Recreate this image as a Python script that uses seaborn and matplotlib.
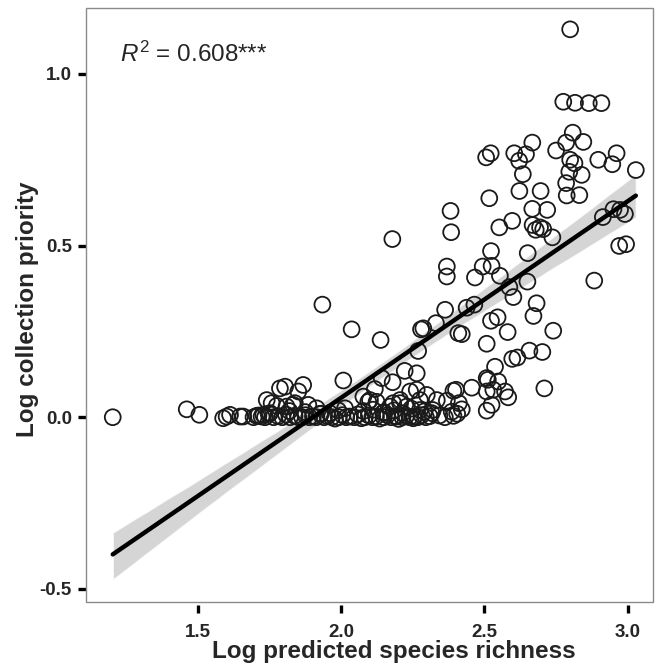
import numpy as np
import pandas as pd
import matplotlib
matplotlib.use("Agg")
import matplotlib.pyplot as plt
import seaborn as sns
from matplotlib.patches import Rectangle

# Data (log predicted richness vs log collection priority)
# upper cloud
x_high = [2.799, 2.775, 2.816, 2.864, 2.908, 2.808, 2.785, 2.845, 2.667, 2.750,
          2.506, 2.522, 2.604, 2.645, 2.621, 2.799, 2.814, 2.897, 2.961, 2.946,
          3.028, 2.796, 2.839, 2.634, 2.785, 2.622, 2.696, 2.787, 2.831, 2.517,
          2.382, 2.667, 2.719, 2.913, 2.950, 2.973, 2.990, 2.552, 2.597, 2.384,
          2.668, 2.679, 2.694, 2.705, 2.737, 2.179, 2.523, 2.651, 2.970, 2.994,
          2.369, 2.369, 2.494, 2.525, 2.467, 2.554, 2.650, 2.883, 2.587, 2.601,
          2.682, 2.363, 2.438, 2.465]
y_high = [1.130, 0.919, 0.916, 0.915, 0.915, 0.829, 0.800, 0.802, 0.800, 0.777,
          0.757, 0.769, 0.769, 0.766, 0.747, 0.750, 0.740, 0.750, 0.769, 0.737,
          0.720, 0.715, 0.706, 0.708, 0.682, 0.659, 0.659, 0.646, 0.647, 0.638,
          0.601, 0.607, 0.604, 0.583, 0.606, 0.604, 0.592, 0.553, 0.572, 0.539,
          0.560, 0.546, 0.553, 0.548, 0.524, 0.519, 0.484, 0.478, 0.499, 0.504,
          0.439, 0.410, 0.439, 0.441, 0.407, 0.412, 0.395, 0.398, 0.379, 0.350,
          0.332, 0.313, 0.319, 0.328]

# middle cloud
x_mid = [2.671, 2.740, 2.331, 2.279, 2.287, 2.409, 2.421, 2.523, 2.546, 2.581,
         2.508, 2.657, 2.702, 2.597, 2.615, 2.138, 2.269, 2.537, 2.222, 2.264,
         2.142, 2.180, 2.118, 2.508, 2.512, 2.548, 2.456, 2.709, 2.508, 2.531,
         2.572, 2.583, 2.392, 2.401, 2.369, 2.411, 2.421, 2.386, 2.392, 2.525,
         2.508, 2.316, 2.320, 2.241, 2.264, 2.299, 2.334, 2.275, 2.206, 2.182,
         2.101, 1.935, 2.037, 2.008]
y_mid = [0.295, 0.252, 0.274, 0.256, 0.259, 0.245, 0.242, 0.281, 0.291, 0.248,
         0.214, 0.194, 0.190, 0.170, 0.174, 0.225, 0.193, 0.147, 0.135, 0.128,
         0.114, 0.102, 0.082, 0.114, 0.109, 0.104, 0.086, 0.084, 0.075, 0.080,
         0.075, 0.058, 0.077, 0.080, 0.048, 0.041, 0.023, 0.016, 0.004, 0.036,
         0.019, 0.012, 0.021, 0.075, 0.080, 0.065, 0.050, 0.050, 0.050, 0.041,
         0.050, 0.328, 0.256, 0.107]

# low band around zero
x_low = [1.204, 1.462, 1.506, 1.589, 1.601, 1.613, 1.648, 1.659, 1.706, 1.723,
         1.729, 1.752, 1.787, 1.741, 1.758, 1.776, 1.810, 1.915, 1.805, 1.851,
         1.868, 1.833, 1.839, 1.886, 2.014, 2.078, 2.095, 2.124, 2.275, 2.252,
         2.194, 2.147, 2.171, 2.206, 2.229,
         1.695, 1.712, 1.735, 1.748, 1.765, 1.781, 1.795, 1.808, 1.822, 1.838,
         1.851, 1.864, 1.876, 1.889, 1.902, 1.914, 1.927, 1.941, 1.953, 1.968,
         1.979, 1.992, 2.005, 2.018, 2.031, 2.046, 2.058, 2.071, 2.083, 2.097,
         2.109, 2.122, 2.135, 2.149, 2.161, 2.174, 2.188, 2.201, 2.214, 2.227,
         2.239, 2.255, 2.268, 2.281, 2.296, 2.309, 2.343, 2.362, 2.405,
         2.078, 2.112, 2.150, 2.185, 2.215, 2.245, 2.290, 1.960, 1.990, 1.930,
         1.875, 1.820]
y_low = [0.000, 0.023, 0.007, -0.003, 0.002, 0.007, 0.002, 0.002, 0.004, 0.002,
         0.007, 0.012, 0.084, 0.050, 0.041, 0.033, 0.031, 0.026, 0.089, 0.075,
         0.094, 0.036, 0.041, 0.036, 0.026, 0.060, 0.045, 0.045, 0.021, -0.003,
         0.002, 0.012, 0.031, 0.041, 0.031,
         0.000, 0.005, 0.000, 0.010, 0.000, 0.003, 0.000, 0.008, 0.000, 0.004,
         0.000, 0.000, 0.006, 0.000, 0.002, 0.000, 0.010, 0.000, 0.003, 0.000,
         -0.004, 0.000, 0.006, 0.000, 0.002, 0.000, 0.008, -0.003, 0.000, 0.005,
         0.000, 0.002, -0.004, 0.000, 0.006, 0.000, 0.003, -0.005, 0.000, 0.004,
         0.000, 0.002, 0.000, 0.006, 0.000, 0.003, 0.005, 0.000, 0.010,
         0.018, 0.022, 0.015, 0.020, 0.012, 0.025, 0.017, 0.012, 0.020, 0.010,
         0.015, 0.018]

df = pd.DataFrame({
    "richness": x_high + x_mid + x_low,
    "priority": y_high + y_mid + y_low,
})

sns.set_style("white")
plt.rcParams["font.family"] = ["Liberation Sans", "DejaVu Sans"]
plt.rcParams["axes.unicode_minus"] = False
plt.rcParams["mathtext.fontset"] = "custom"
plt.rcParams["mathtext.rm"] = "Liberation Sans"
plt.rcParams["mathtext.it"] = "Liberation Sans:italic"

fig = plt.figure(figsize=(6.65, 6.71), dpi=100)
ax = fig.add_axes([0.129, 0.103, 0.853, 0.885])

sns.regplot(data=df, x="richness", y="priority", ax=ax, color="black",
            n_boot=1000, seed=1,
            scatter_kws=dict(s=130, facecolors="none", edgecolors="#1a1a1a",
                             linewidths=1.3, alpha=1, zorder=3),
            line_kws=dict(color="black", lw=3.2, zorder=4))

# lighten the confidence band
for coll in ax.collections[1:]:
    coll.set_facecolor("#c8c8c8")
    coll.set_alpha(0.75)
    coll.set_zorder(2)

ax.set_xlim(1.110, 3.088)
ax.set_ylim(-0.538, 1.192)
ax.set_xticks([1.5, 2.0, 2.5, 3.0])
ax.set_xticklabels(["1.5", "2.0", "2.5", "3.0"])
ax.set_yticks([-0.5, 0.0, 0.5, 1.0])
ax.set_yticklabels(["-0.5", "0.0", "0.5", "1.0"])

# frame drawn separately so the x ticks can sit just below it
for sp in ax.spines.values():
    sp.set_visible(False)
ax.spines["bottom"].set_position(("outward", 2))
ax.add_patch(Rectangle((0, 0), 1, 1, transform=ax.transAxes, fill=False,
                       edgecolor="#8a8a8a", lw=1.0, clip_on=False, zorder=5))

ax.tick_params(axis="both", direction="out", length=6, width=2.4,
               color="black", labelsize=13.5, bottom=True, left=True)
ax.tick_params(axis="x", pad=8)
ax.tick_params(axis="y", pad=4)
for lab in ax.get_xticklabels() + ax.get_yticklabels():
    lab.set_fontweight("bold")

ax.set_xlabel("Log predicted species richness", fontsize=17.5, fontweight="bold")
ax.set_ylabel("Log collection priority", fontsize=17.5, fontweight="bold")
ax.xaxis.set_label_coords(0.543, -0.064)
ax.yaxis.set_label_coords(-0.083, 0.493)

ax.text(0.06, 0.909, r"$\mathit{R}^{2}$ = 0.608***", transform=ax.transAxes,
        fontsize=17.5, va="baseline", ha="left")

fig.savefig("out.png", dpi=100)
